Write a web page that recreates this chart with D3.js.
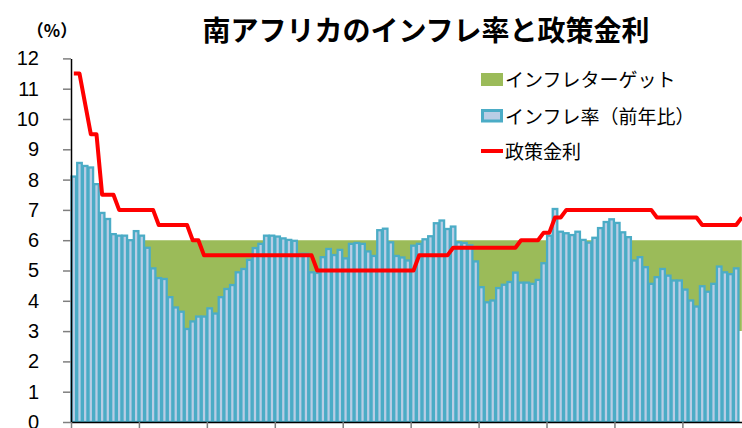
<!DOCTYPE html>
<html>
<head>
<meta charset="utf-8">
<script src="https://cdn.jsdelivr.net/npm/d3@7/dist/d3.min.js"></script>
<style>
  html, body { margin: 0; padding: 0; background: #ffffff; }
  svg { display: block; }
</style>
</head>
<body>
<div id="chart"></div>
<script>
// ---- Data (monthly, Jan 2009 – Nov 2018) ----
const startYear = 2009;
const monthCount = 119;
const yTicks = [0,1,2,3,4,5,6,7,8,9,10,11,12];
const targetRange = [3, 6];

// CPI inflation, % y/y (Jan 2009 – Oct 2018)
const inflation = [
  8.1, 8.55, 8.45, 8.4, 7.85, 6.9, 6.7, 6.2, 6.15, 6.15, 6.0, 6.3,
  6.15, 5.75, 5.07, 4.75, 4.72, 4.12, 3.78, 3.64, 3.07, 3.32, 3.48, 3.48,
  3.75, 3.58, 4.12, 4.39, 4.52, 4.94, 5.05, 5.35, 5.74, 5.88, 6.15, 6.15,
  6.12, 6.06, 6.01, 5.98, 5.55, 5.55, 4.94, 4.92, 5.44, 5.71, 5.51, 5.68,
  5.4, 5.88, 5.91, 5.88, 5.63, 5.48, 6.33, 6.38, 5.93, 5.48, 5.43, 5.33,
  5.82, 5.88, 6.03, 6.13, 6.56, 6.65, 6.37, 6.45, 5.93, 5.91, 5.83, 5.3,
  4.45, 3.95, 4.01, 4.42, 4.53, 4.62, 4.93, 4.6, 4.6, 4.56, 4.69, 5.24,
  6.15, 7.03, 6.28, 6.23, 6.17, 6.28, 6.01, 5.92, 6.08, 6.4, 6.6, 6.69,
  6.57, 6.26, 6.1, 5.33, 5.44, 5.11, 4.56, 4.78, 5.05, 4.83, 4.67, 4.67,
  4.37, 4.01, 3.81, 4.48, 4.3, 4.56, 5.13, 4.94, 4.88, 5.07
];

// SARB repo rate, % (Jan 2009 – Nov 2018)
const policyRate = [
  11.5, 11.5, 10.5, 9.5, 9.5, 7.5, 7.5, 7.5, 7.0, 7.0, 7.0, 7.0,
  7.0, 7.0, 7.0, 6.5, 6.5, 6.5, 6.5, 6.5, 6.5, 6.0, 6.0, 5.5,
  5.5, 5.5, 5.5, 5.5, 5.5, 5.5, 5.5, 5.5, 5.5, 5.5, 5.5, 5.5,
  5.5, 5.5, 5.5, 5.5, 5.5, 5.5, 5.5, 5.0, 5.0, 5.0, 5.0, 5.0,
  5.0, 5.0, 5.0, 5.0, 5.0, 5.0, 5.0, 5.0, 5.0, 5.0, 5.0, 5.0,
  5.0, 5.5, 5.5, 5.5, 5.5, 5.5, 5.5, 5.75, 5.75, 5.75, 5.75, 5.75,
  5.75, 5.75, 5.75, 5.75, 5.75, 5.75, 5.75, 6.0, 6.0, 6.0, 6.0, 6.25,
  6.25, 6.75, 6.75, 7.0, 7.0, 7.0, 7.0, 7.0, 7.0, 7.0, 7.0, 7.0,
  7.0, 7.0, 7.0, 7.0, 7.0, 7.0, 7.0, 6.75, 6.75, 6.75, 6.75, 6.75,
  6.75, 6.75, 6.75, 6.5, 6.5, 6.5, 6.5, 6.5, 6.5, 6.5, 6.75
];

const titleText = "南アフリカのインフレ率と政策金利";
const unitText = "（%）";
const legendLabels = ["インフレターゲット", "インフレ率（前年比）", "政策金利"];

// ---- Layout ----
const W = 742, H = 428;
const plotLeft = 71, plotBottom = 422, plotTop = 58.4;
const monthW = 5.661;

const colGreen = "#9bbb59", colTeal = "#4bacc6", colFill = "#b9cde5", colRed = "#ff0000";

const svg = d3.select("#chart").append("svg")
  .attr("width", W).attr("height", H)
  .style("font-family", "'Liberation Sans', Arial, sans-serif");

const x = d3.scaleLinear().domain([0, monthCount]).range([plotLeft, plotLeft + monthCount * monthW]);
const y = d3.scaleLinear().domain([0, 12]).range([plotBottom, plotTop]);
const xc = i => x(i + 0.5);

// Target band (area from 3 to 6)
const months = d3.range(monthCount);
const area = d3.area()
  .x(i => xc(i))
  .y0(() => y(targetRange[0]))
  .y1(() => y(targetRange[1]));
svg.append("path").datum(months)
  .attr("d", area)
  .attr("fill", colGreen);

// Inflation bars
const gap = 1.1, sw = 2.3;
svg.append("g").selectAll("rect").data(inflation).join("rect")
  .attr("x", (d, i) => x(i) + gap / 2)
  .attr("width", monthW - gap)
  .attr("y", d => y(d))
  .attr("height", d => y(0) - y(d))
  .attr("fill", colFill)
  .attr("stroke", colTeal)
  .attr("stroke-width", sw);

// Policy rate line
const line = d3.line().x((d, i) => xc(i)).y(d => y(d));
svg.append("path").datum(policyRate)
  .attr("d", line)
  .attr("fill", "none")
  .attr("stroke", colRed)
  .attr("stroke-width", 4)
  .attr("stroke-linejoin", "round");

// Clear area below the x axis
svg.append("rect").attr("x", 0).attr("y", plotBottom).attr("width", W).attr("height", H - plotBottom).attr("fill", "#fff");

// Y axis
const yAxis = d3.axisLeft(y).tickValues(yTicks).tickSize(8).tickPadding(24).tickSizeOuter(0);
const gy = svg.append("g").attr("transform", `translate(${plotLeft},0)`).call(yAxis);
gy.select(".domain").attr("stroke", "#000").attr("stroke-width", 1.5);
gy.selectAll(".tick line").attr("stroke", "#7f7f7f").attr("stroke-width", 1.5);
gy.selectAll(".tick text").attr("fill", "#000").style("font-size", "20px")
  .style("font-family", "'Liberation Sans', Arial, sans-serif");

// X axis (year ticks, labels outside the picture)
const xTickVals = d3.range(0, monthCount + 1, 12);
const xAxis = d3.axisBottom(x).tickValues(xTickVals).tickFormat("").tickSize(7).tickSizeOuter(0);
const gx = svg.append("g").attr("transform", `translate(0,${plotBottom})`).call(xAxis);
gx.select(".domain").attr("stroke", "#000").attr("stroke-width", 1.5);
gx.selectAll(".tick line").attr("stroke", "#7f7f7f").attr("stroke-width", 1.5);

// Title and unit
svg.append("text").attr("x", 426).attr("y", 41).attr("text-anchor", "middle")
  .style("font-family", "'Noto Sans CJK JP', sans-serif").style("font-size", "28px").style("font-weight", "bold")
  .text(titleText);
svg.append("text").attr("x", 52).attr("y", 37).attr("text-anchor", "middle")
  .style("font-family", "'Noto Sans CJK JP', sans-serif").style("font-size", "17px").style("font-weight", "bold")
  .text(unitText);

// Legend
const lg = svg.append("g").style("font-family", "'Noto Sans CJK JP', sans-serif").style("font-size", "19px");
lg.append("rect").attr("x", 481).attr("y", 73).attr("width", 22).attr("height", 13).attr("fill", colGreen);
lg.append("rect").attr("x", 482.5).attr("y", 110.5).attr("width", 19).attr("height", 10.5)
  .attr("fill", colFill).attr("stroke", colTeal).attr("stroke-width", 3);
lg.append("line").attr("x1", 481).attr("x2", 503).attr("y1", 151).attr("y2", 151)
  .attr("stroke", colRed).attr("stroke-width", 4);
[80, 117, 152].forEach((yy, k) => {
  lg.append("text").attr("x", 505).attr("y", yy).attr("dy", "0.35em").attr("fill", "#000").text(legendLabels[k]);
});
</script>
</body>
</html>
